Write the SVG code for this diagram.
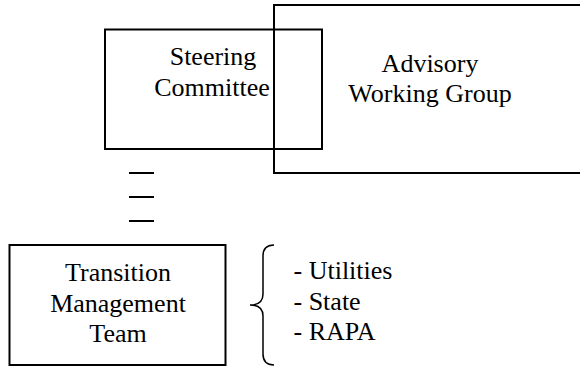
<svg xmlns="http://www.w3.org/2000/svg" width="580" height="366" viewBox="0 0 580 366">
<style>
.box{fill:none;stroke:#000;stroke-width:2}
text{font-family:'Times New Roman',Times,'Liberation Serif','Noto Serif','DejaVu Serif',serif;font-size:26px;fill:#000}
.c{text-anchor:middle}
.dash{stroke:#000;stroke-width:2}
</style>
<rect width="580" height="366" fill="#fff"/>
<g id="steering-committee">
<rect class="box" x="105" y="29.5" width="217" height="119.5"/>
<text class="c" x="213" y="65">Steering</text>
<text class="c" x="212" y="96">Committee</text>
</g>
<g id="advisory-working-group">
<rect class="box" x="274" y="5" width="312" height="168"/>
<text class="c" x="430" y="72">Advisory</text>
<text class="c" x="430" y="102">Working Group</text>
</g>
<g id="connectors">
<line class="dash" x1="129" y1="173" x2="154" y2="173"/>
<line class="dash" x1="129" y1="197" x2="154" y2="197"/>
<line class="dash" x1="129" y1="221" x2="154" y2="221"/>
</g>
<g id="transition-management-team">
<rect class="box" x="9.5" y="245" width="216" height="120"/>
<text class="c" x="118" y="281">Transition</text>
<text class="c" x="118" y="311.5">Management</text>
<text class="c" x="118" y="342">Team</text>
</g>
<g id="members">
<path d="M274,245 C266,245 263,249 263,256 L263,294 C263,301 259,305 250,305 C259,305 263,309 263,316 L263,354 C263,361 266,365 274,365" fill="none" stroke="#000" stroke-width="1.5"/>
<text x="293.5" y="279">- Utilities</text>
<text x="293.5" y="309.5">- State</text>
<text x="293.5" y="340">- RAPA</text>
</g>
</svg>
